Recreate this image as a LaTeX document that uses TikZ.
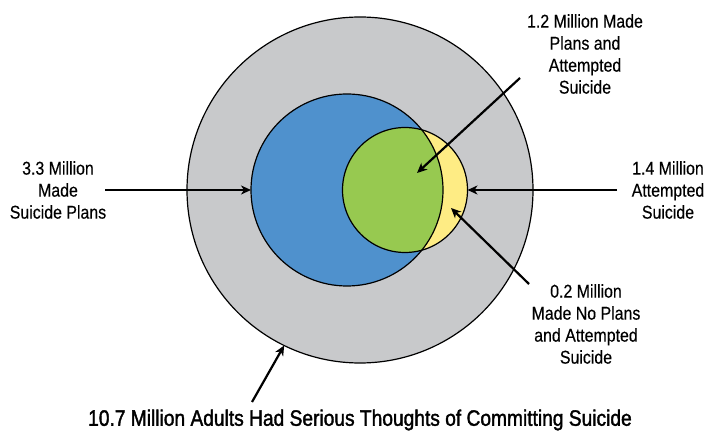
\documentclass[tikz,border=0pt]{standalone}
\usepackage{fontspec}
\setmainfont{Liberation Sans}[FakeStretch=0.86,FakeBold=0.3]
\newfontfamily\titlefont{Liberation Sans}[FakeStretch=0.86,FakeBold=1.6]
\usetikzlibrary{arrows.meta}
\definecolor{grayfill}{RGB}{200,201,203}
\definecolor{bluefill}{RGB}{79,145,205}
\definecolor{greenfill}{RGB}{151,201,80}
\definecolor{yellowfill}{RGB}{254,236,132}
\begin{document}
\begin{tikzpicture}[x=1pt,y=-1pt,
  disc/.style={circle,inner sep=0pt,outer sep=0pt},
  outline/.style={line width=1.2pt},
  lbl/.style={font=\fontsize{18.5}{22}\selectfont,align=center,inner sep=0pt},
  ttl/.style={font=\titlefont\fontsize{22.3}{26}\selectfont,inner sep=0pt},
  pointer/.style={line width=2.2pt,-{Stealth[length=10pt,width=9pt,inset=3pt]}}]
\useasboundingbox (0,0) rectangle (709,435);
% discs
\node[disc,fill=grayfill,draw,outline,minimum size=346pt] (gray) at (360,190) {};
\node[disc,fill=bluefill,minimum size=192pt] (blue) at (347,190) {};
\node[disc,fill=yellowfill,minimum size=125pt] (att) at (405,190) {};
\begin{scope}
  \clip (blue.center) circle[radius=96pt];
  \fill[greenfill] (att.center) circle[radius=62.5pt];
\end{scope}
\draw[outline] (blue.center) circle[radius=96pt];
\draw[outline] (att.center) circle[radius=62.5pt];
% labels
\node[lbl] (t33) at (58,190) {3.3 Million\\Made\\Suicide Plans};
\node[lbl] (t14) at (668,190) {1.4 Million\\Attempted\\Suicide};
\node[lbl] (t12) at (585,54) {1.2 Million Made\\Plans and\\Attempted\\Suicide};
\node[lbl] (t02) at (586,324) {0.2 Million\\Made No Plans\\and Attempted\\Suicide};
\node[ttl] (tt) at (360,420) {10.7 Million Adults Had Serious Thoughts of Committing Suicide};
% arrow ends
\coordinate (a33) at (105,190);
\coordinate (a14) at (617,190);
\coordinate (a12) at (520,78);
\coordinate (p12) at (417,173);
\coordinate (a02) at (529,284);
\coordinate (p02) at (451,208);
\coordinate (a107) at (252,402);
% arrows
\draw[pointer] (a33) -- (blue.west);
\draw[pointer] (a14) -- (att.east);
\draw[pointer] (a12) -- (p12);
\draw[pointer] (a02) -- (p02);
\draw[pointer] (a107) -- (gray.244);
\end{tikzpicture}
\end{document}
